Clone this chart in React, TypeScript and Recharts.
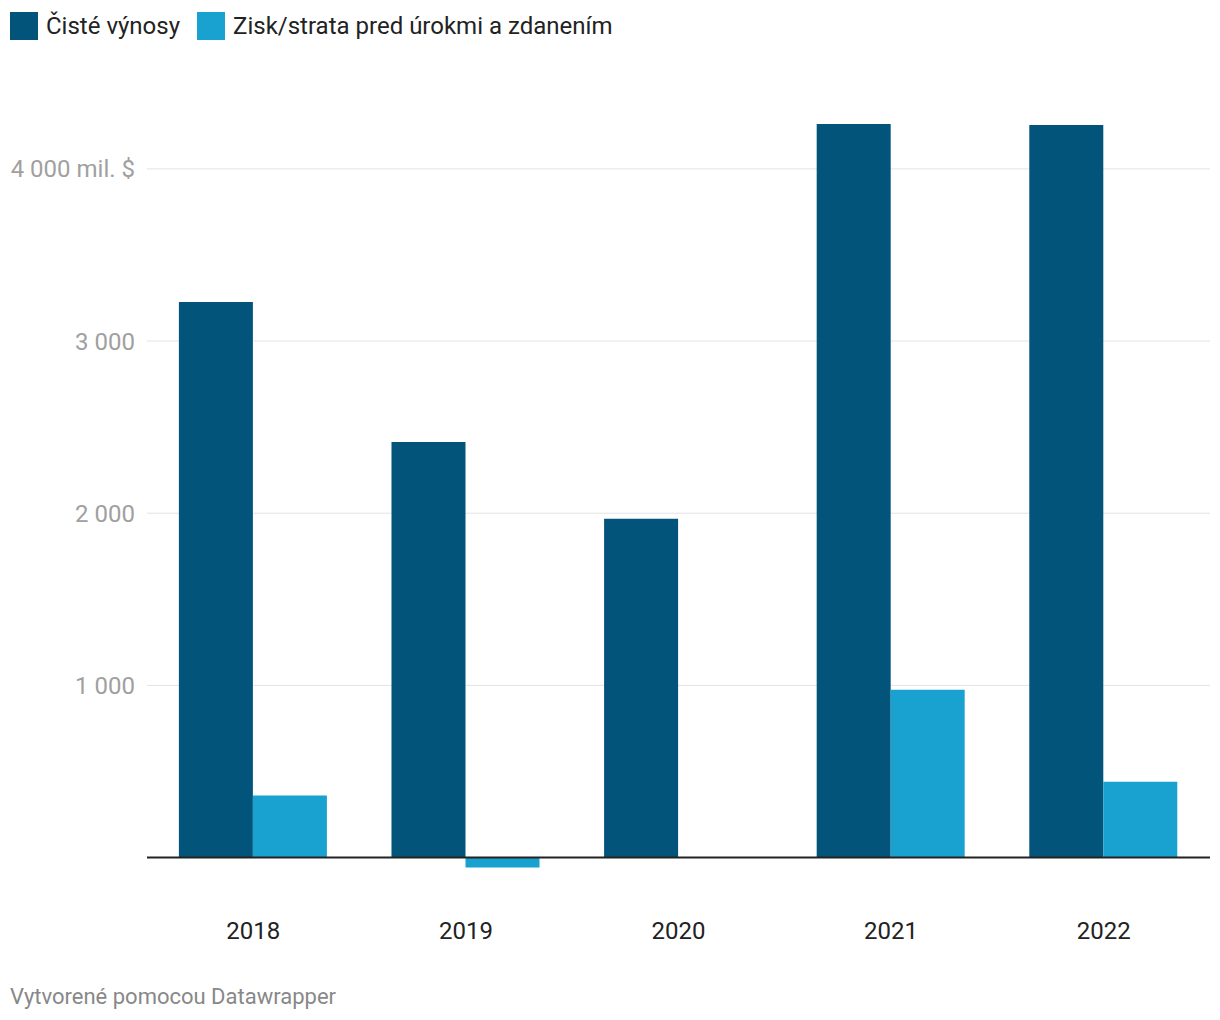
import React from 'react';
import { BarChart, Bar, XAxis, YAxis, CartesianGrid, ReferenceLine } from 'recharts';

const categories = ['2018', '2019', '2020', '2021', '2022'];
const netRevenue = [3227, 2414, 1968, 4261, 4255];
const ebit = [360, -58, 0, 975, 441];
const yTicks = [1000, 2000, 3000, 4000];
const yTickLabels = ['1 000', '2 000', '3 000', '4 000 mil. $'];
const seriesNames = ['Čisté výnosy', 'Zisk/strata pred úrokmi a zdanením'];
const colors = ['#02547b', '#19a2cf'];

const data = categories.map((c, i) => ({ year: c, rev: netRevenue[i], ebit: ebit[i] }));

const FONT = 'Roboto, "Noto Sans", sans-serif';

const YTick = (props: any) => {
  const { y, payload } = props;
  const idx = yTicks.indexOf(payload.value);
  return (
    <text x={135} y={y} dy="0.355em" textAnchor="end" fill="#a0a0a0" fontSize={24} fontFamily={FONT}>
      {yTickLabels[idx]}
    </text>
  );
};

const XTick = (props: any) => {
  const { x, y, payload } = props;
  return (
    <text x={x} y={y} dy={39} textAnchor="middle" fill="#222" fontSize={24} fontFamily={FONT}>
      {payload.value}
    </text>
  );
};

export default function App() {
  return (
    <div style={{ position: 'absolute', left: 0, top: 0, width: 1220, height: 1020, background: '#fff', fontFamily: FONT }}>
      <div style={{ position: 'absolute', left: 10, top: 12, display: 'flex', alignItems: 'center', fontSize: 24, color: '#222', lineHeight: '28px' }}>
        {seriesNames.map((n, i) => (
          <div key={n} style={{ display: 'flex', alignItems: 'center', marginRight: 17 }}>
            <div style={{ width: 28, height: 28, background: colors[i], marginRight: 8 }} />
            <span>{n}</span>
          </div>
        ))}
      </div>
      <div style={{ position: 'absolute', left: 0, top: 0 }}>
        <BarChart width={1220} height={1020} data={data} margin={{ top: 100, right: 10, left: 0, bottom: 68 }} barCategoryGap="15%" barGap={0}>
          <CartesianGrid horizontal vertical={false} horizontalValues={yTicks} stroke="#e3e3e3" strokeWidth={1} />
          <XAxis dataKey="year" axisLine={false} tickLine={false} tick={<XTick />} height={60} interval={0} />
          <YAxis width={147} domain={[-200, 4400]} ticks={yTicks} axisLine={false} tickLine={false} tick={<YTick />} interval={0} />
          <Bar dataKey="rev" fill={colors[0]} isAnimationActive={false} />
          <Bar dataKey="ebit" fill={colors[1]} isAnimationActive={false} />
          <ReferenceLine y={0} stroke="#222" strokeWidth={2} />
        </BarChart>
      </div>
      <div style={{ position: 'absolute', left: 10, top: 984, fontSize: 22, lineHeight: '26px', color: '#888' }}>
        Vytvorené pomocou Datawrapper
      </div>
    </div>
  );
}
